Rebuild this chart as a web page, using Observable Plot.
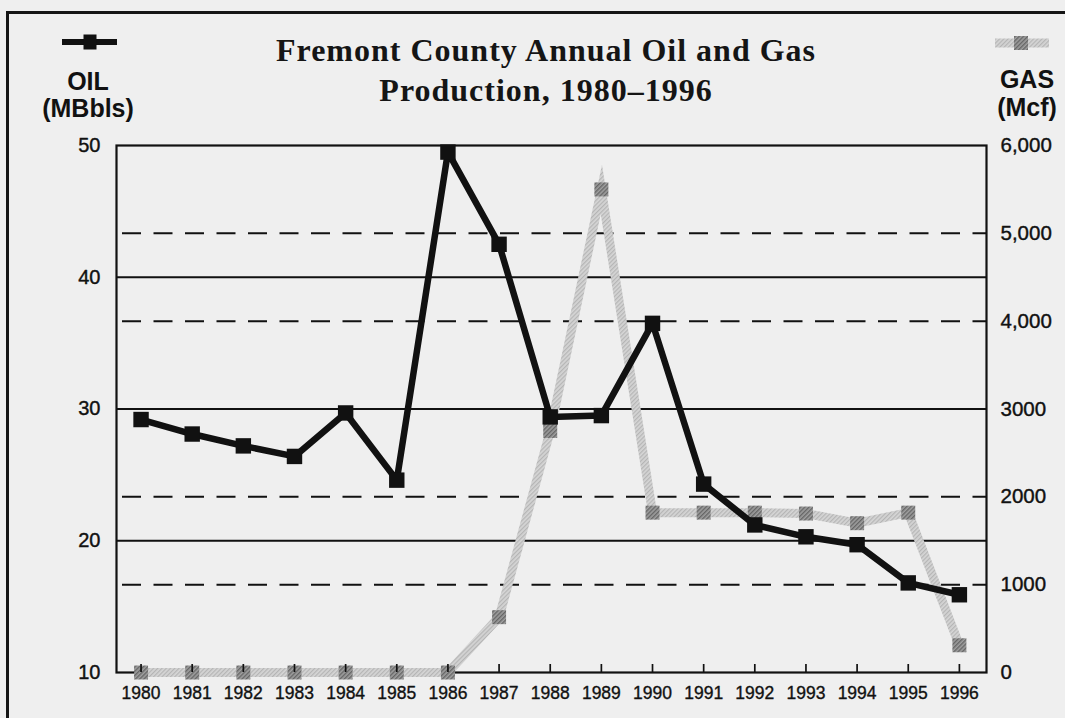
<!DOCTYPE html>
<html>
<head>
<meta charset="utf-8">
<script src="https://cdn.jsdelivr.net/npm/d3@7"></script>
<script src="https://cdn.jsdelivr.net/npm/@observablehq/plot@0.6"></script>
<style>
  html, body { margin: 0; padding: 0; background: #efefef; }
  #wrap { position: relative; width: 1065px; height: 718px; overflow: hidden; background: #efefef;
          font-family: "Liberation Sans", Arial, Helvetica, sans-serif; color: #111; }
  #border { position: absolute; left: 6px; top: 11px; width: 1200px; height: 900px;
            border-left: 3px solid #151515; border-top: 3px solid #151515; pointer-events: none; }
  #header { position: relative; height: 120px; }
  .title { position: absolute; left: 0; width: 1092px; top: 30px; text-align: center;
           font-family: "Liberation Serif", "Times New Roman", serif; font-weight: bold;
           font-size: 32px; line-height: 40px; letter-spacing: 1px; color: #151515; }
  .unit { position: absolute; width: 140px; text-align: center; font-weight: bold;
          font-size: 25px; line-height: 26px; color: #111; }
  .sym { position: absolute; }
</style>
</head>
<body>
<svg width="0" height="0" style="position:absolute">
  <defs>
    <pattern id="gasLineHatch" patternUnits="userSpaceOnUse" width="3" height="3" patternTransform="rotate(45)">
      <rect width="3" height="3" fill="#d5d5d5"></rect>
      <rect width="1.2" height="3" fill="#b5b5b5"></rect>
    </pattern>
    <pattern id="gasSqHatch" patternUnits="userSpaceOnUse" width="3" height="3" patternTransform="rotate(45)">
      <rect width="3" height="3" fill="#a0a0a0"></rect>
      <rect width="1.4" height="3" fill="#666666"></rect>
    </pattern>
  </defs>
</svg>
<div id="wrap">
  <div id="header">
    <svg class="sym" style="left:60px;top:33px" width="60" height="20">
      <line x1="2" x2="57" y1="9" y2="9" stroke="#111" stroke-width="6"></line>
      <rect x="23.5" y="1.5" width="13" height="15" fill="#111"></rect>
    </svg>
    <div class="unit" style="left:18px;top:68px">OIL</div>
    <div class="unit" style="left:18px;top:95px">(MBbls)</div>
    <div class="title">Fremont County Annual Oil and Gas<br>Production, 1980–1996</div>
    <svg class="sym" style="left:992px;top:33px" width="60" height="20">
      <line x1="3" x2="57" y1="10" y2="10" stroke="url(#gasLineHatch)" stroke-width="9"></line>
      <rect x="22" y="3" width="14" height="14" fill="url(#gasSqHatch)"></rect>
    </svg>
    <div class="unit" style="left:957px;top:66px">GAS</div>
    <div class="unit" style="left:957px;top:94px">(Mcf)</div>
  </div>
  <div id="chart"></div>
  <div id="border"></div>
</div>
<script>
// ---- data ----
const years = [1980, 1981, 1982, 1983, 1984, 1985, 1986, 1987, 1988, 1989, 1990, 1991, 1992, 1993, 1994, 1995, 1996];
const oilMBbls = [29.2, 28.1, 27.2, 26.4, 29.7, 24.6, 49.5, 42.5, 29.4, 29.5, 36.5, 24.3, 21.2, 20.3, 19.7, 16.8, 15.9];
const gasMcf = [0, 0, 0, 0, 0, 0, 0, 630, 2750, 5500, 1820, 1820, 1820, 1810, 1700, 1820, 310];
const oilTicks = [10, 20, 30, 40, 50];
const oilGrid = [20, 30, 40];
const gasTicks = [0, 1000, 2000, 3000, 4000, 5000, 6000];
const gasTickLabels = ["0", "1000", "2000", "3000", "4,000", "5,000", "6,000"];
const gasDashed = [1000, 2000, 4000, 5000];

// gas axis maps 0..6000 onto oil axis 10..50
const gasToOil = g => 10 + g * (40 / 6000);

const rows = years.map((year, i) => ({year, oil: oilMBbls[i], gas: gasMcf[i]}));

const W = 1065, H = 598, mT = 25, mB = 46, mL = 116, mR = 79;
const plotH = H - mT - mB;

const chart = Plot.plot({
  width: W,
  height: H,
  marginTop: mT,
  marginBottom: mB,
  marginLeft: mL,
  marginRight: mR,
  x: {domain: [1979.52, 1996.53], axis: null},
  y: {domain: [10, 50], axis: null},
  style: {background: "transparent", fontFamily: "'Liberation Sans', Arial, Helvetica, sans-serif", color: "#111", overflow: "visible"},
  marks: [
    Plot.ruleY(oilGrid, {y: d => d, stroke: "#111", strokeWidth: 1.8}),
    Plot.ruleY(gasDashed, {y: g => gasToOil(g), stroke: "#111", strokeWidth: 2,
      strokeDasharray: "19,12.5", strokeDashoffset: 25.5}),
    Plot.frame({stroke: "#111", strokeWidth: 2.2}),
    Plot.line(rows, {x: "year", y: d => gasToOil(d.gas), stroke: "url(#gasLineHatch)",
      strokeWidth: 9, strokeLinejoin: "miter", strokeMiterlimit: 8}),
    Plot.dot(rows, {x: "year", y: d => gasToOil(d.gas), symbol: "square", r: 7.9,
      fill: "url(#gasSqHatch)", stroke: "none"}),
    Plot.ruleX(years, {x: d => d, insetTop: plotH - 8, stroke: "#111", strokeWidth: 1.7}),
    Plot.line(rows, {x: "year", y: "oil", stroke: "#111", strokeWidth: 6.5, strokeLinejoin: "miter"}),
    Plot.dot(rows, {x: "year", y: "oil", symbol: "square", r: 8.7, fill: "#111", stroke: "none"}),
    Plot.text(oilTicks, {y: d => d, text: d => String(d), frameAnchor: "left", dx: -16,
      textAnchor: "end", fontSize: 20, fill: "#111", stroke: "#111", strokeWidth: 0.4}),
    Plot.text(gasTicks, {y: g => gasToOil(g), text: (d, i) => gasTickLabels[i], frameAnchor: "right",
      dx: 14, textAnchor: "start", fontSize: 20.5, fill: "#111", stroke: "#111", strokeWidth: 0.4}),
    Plot.text(years, {x: d => d, text: d => String(d), frameAnchor: "bottom", dy: 26,
      fontSize: 17.5, fill: "#111", stroke: "#111", strokeWidth: 0.35})
  ]
});
document.getElementById("chart").appendChild(chart);
</script>
</body>
</html>
